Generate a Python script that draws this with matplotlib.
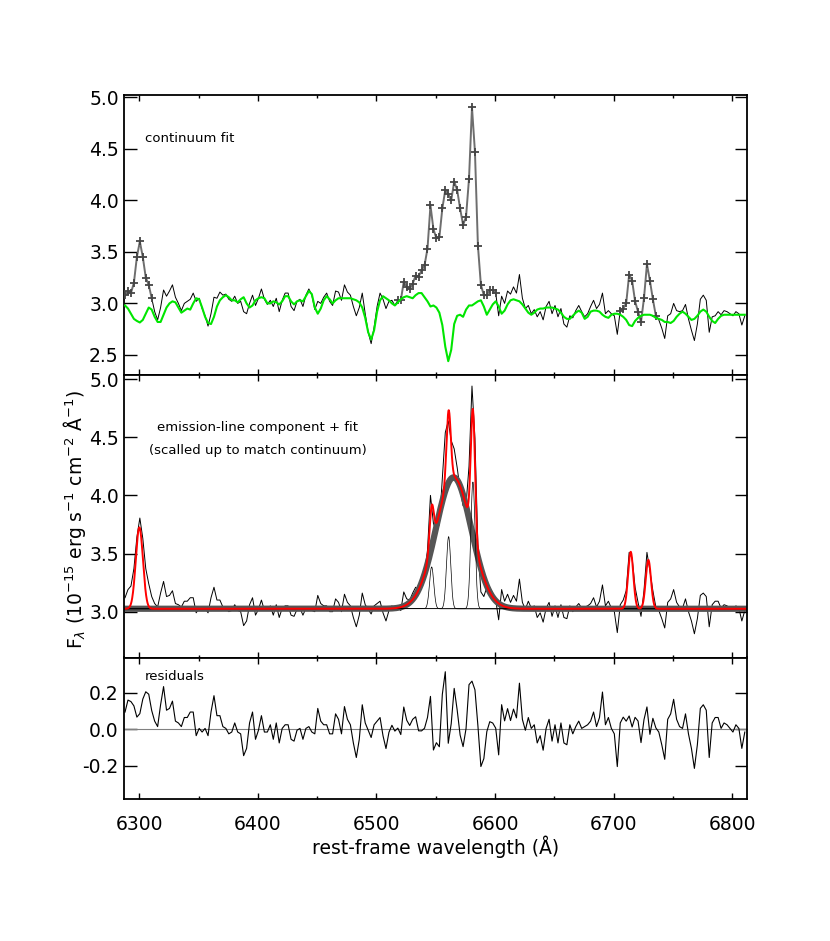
import numpy as np
import matplotlib.pyplot as plt

plt.rcParams['font.family'] = 'DejaVu Sans'
plt.rcParams['axes.unicode_minus'] = False

wave = np.arange(6288.0, 6811.0, 2.5)
flux = [3.08, 3.12, 3.10, 3.20, 3.45, 3.60, 3.45, 3.25, 3.18, 3.05,
        2.92, 2.84, 2.96, 3.13, 3.07, 3.12, 3.18, 3.06, 3.00, 2.93,
        3.00, 3.02, 3.04, 3.10, 3.02, 3.05, 2.95, 2.88, 2.78, 2.90,
        3.06, 3.05, 3.11, 3.08, 3.09, 3.04, 3.02, 3.07, 3.00, 3.02,
        2.92, 2.90, 3.00, 3.08, 2.98, 3.05, 3.14, 3.04, 2.99, 3.03,
        2.97, 3.05, 2.92, 3.03, 3.10, 3.10, 2.97, 2.93, 3.02, 3.04,
        2.97, 3.08, 3.14, 3.08, 2.94, 3.02, 3.00, 3.06, 3.10, 3.02,
        2.98, 3.12, 3.11, 3.03, 3.18, 3.11, 3.08, 2.97, 2.88, 2.96,
        3.10, 2.90, 2.72, 2.61, 2.77, 2.97, 3.10, 3.04, 2.95, 3.02,
        3.03, 2.98, 3.03, 3.03, 3.21, 3.16, 3.14, 3.19, 3.27, 3.26,
        3.32, 3.37, 3.53, 3.95, 3.72, 3.63, 3.64, 3.92, 4.10, 4.06,
        4.00, 4.18, 4.10, 3.92, 3.76, 3.84, 4.21, 4.90, 4.47, 3.56,
        3.18, 3.08, 3.08, 3.13, 3.13, 3.10, 2.88, 3.07, 3.00, 3.12,
        3.09, 3.16, 3.10, 3.28, 3.05, 2.95, 2.98, 2.90, 2.94, 2.87,
        2.92, 2.84, 2.97, 3.02, 2.90, 2.98, 2.87, 2.95, 2.80, 2.77,
        2.88, 2.86, 2.93, 2.98, 2.92, 2.87, 2.90, 2.97, 3.03, 2.95,
        2.99, 3.10, 2.90, 2.93, 2.90, 2.88, 2.70, 2.93, 2.95, 3.00,
        3.28, 3.22, 3.02, 2.92, 2.82, 3.05, 3.38, 3.22, 3.04, 2.88,
        2.84, 2.76, 2.66, 2.88, 2.90, 3.00, 2.93, 2.92, 2.93, 2.99,
        2.85, 2.74, 2.64, 2.80, 3.04, 3.08, 3.03, 2.72, 2.87, 2.88,
        2.92, 2.89, 2.93, 2.92, 2.90, 2.88, 2.92, 2.90, 2.79, 2.88]

# stellar continuum fit (green), same sampling
cont = [2.98, 2.95, 2.90, 2.85, 2.83, 2.815, 2.84, 2.90, 2.96, 2.94,
        2.87, 2.82, 2.82, 2.89, 2.96, 3.00, 3.02, 3.01, 2.96, 2.91,
        2.93, 2.95, 2.94, 3.00, 3.05, 3.04, 2.96, 2.87, 2.81, 2.80,
        2.87, 2.97, 3.03, 3.06, 3.08, 3.06, 3.03, 3.03, 3.01, 3.04,
        3.06, 3.00, 2.96, 2.98, 3.03, 3.05, 3.06, 3.05, 3.00, 3.00,
        3.02, 3.01, 2.99, 3.02, 3.07, 3.07, 3.02, 2.99, 3.02, 3.03,
        3.02, 3.07, 3.12, 3.09, 2.96, 2.90, 2.95, 3.03, 3.07, 3.04,
        3.00, 3.03, 3.05, 3.05, 3.05, 3.05, 3.05, 3.04, 3.03, 3.01,
        2.96, 2.86, 2.72, 2.65, 2.74, 2.92, 3.03, 3.07, 3.05, 3.03,
        3.00, 2.98, 3.01, 3.04, 3.06, 3.07, 3.06, 3.05, 3.08, 3.10,
        3.10, 3.06, 3.02, 2.97, 2.98, 2.96, 2.91, 2.79, 2.58, 2.44,
        2.55, 2.80, 2.88, 2.89, 2.87, 2.94, 2.98, 2.98, 3.00, 3.02,
        3.03, 2.97, 2.89, 2.94, 2.99, 3.02, 2.97, 2.90, 2.93, 2.99,
        3.03, 3.04, 3.03, 3.02, 2.99, 2.95, 2.91, 2.89, 2.91, 2.94,
        2.95, 2.95, 2.96, 2.96, 2.96, 2.95, 2.94, 2.91, 2.87, 2.85,
        2.85, 2.88, 2.91, 2.93, 2.91, 2.85, 2.87, 2.92, 2.93, 2.93,
        2.92, 2.89, 2.87, 2.86, 2.89, 2.90, 2.90, 2.89, 2.87, 2.84,
        2.79, 2.78, 2.83, 2.86, 2.88, 2.89, 2.89, 2.89, 2.88, 2.86,
        2.85, 2.84, 2.82, 2.82, 2.81, 2.83, 2.87, 2.90, 2.92, 2.90,
        2.87, 2.84, 2.85, 2.88, 2.92, 2.94, 2.92, 2.87, 2.83, 2.81,
        2.85, 2.88, 2.89, 2.89, 2.89, 2.89, 2.89, 2.89, 2.89, 2.89]

# regions masked from the continuum fit (drawn with crosses)
mask_ranges = [(6288.0, 6310.5), (6518.0, 6600.5), (6705.5, 6735.5)]

# emission-line fit: level + broad H-alpha + narrow lines
fit_level = 3.025
emis_level = 3.02
broad_center, broad_amp, broad_sigma = 6565.0, 1.13, 15.0
line_names = ['[OI]', '[NII]', 'Ha', '[NII]', '[SII]', '[SII]']
line_centers = [6300.1, 6546.5, 6560.8, 6581.3, 6714.3, 6729.2]
line_amps = [0.70, 0.36, 0.62, 1.09, 0.49, 0.42]
line_sigmas = [3.0, 1.8, 1.8, 1.8, 2.2, 2.2]
shown_components = [1, 2, 3]  # narrow Ha+[NII] drawn separately

flux = np.array(flux)
cont = np.array(cont)


def gauss(w, c, a, s):
    return a * np.exp(-0.5 * ((w - c) / s) ** 2)


def model(w):
    m = fit_level + gauss(w, broad_center, broad_amp, broad_sigma)
    for c, a, s in zip(line_centers, line_amps, line_sigmas):
        m = m + gauss(w, c, a, s)
    return m


emis = flux - cont + emis_level
resid = emis - model(wave)
wfine = np.linspace(6287.4, 6812.6, 3000)

#%%
W, H = 830, 941
fig = plt.figure(figsize=(W / 100, H / 100), dpi=100)
left, width = 124.3 / W, 623.0 / W
ax1 = fig.add_axes([left, (H - 375) / H, width, 280 / H])
ax2 = fig.add_axes([left, (H - 657.5) / H, width, 282.5 / H])
ax3 = fig.add_axes([left, (H - 799.3) / H, width, 141.8 / H])

# top: continuum fit
inside = np.zeros(len(wave), bool)
for lo, hi in mask_ranges:
    inside |= (wave > lo) & (wave < hi)
ax1.plot(wave, np.where(inside, np.nan, flux), color='black', lw=0.7)
for lo, hi in mask_ranges:
    sel = (wave >= lo) & (wave <= hi)
    ax1.plot(wave[sel], flux[sel], color='#6e6e6e', lw=1.4, zorder=3)
    ax1.plot(wave[sel], flux[sel], ls='none', marker='+', ms=5.5, mew=1.3,
             color='#454545', zorder=4)
ax1.plot(wave, cont, color='#00e600', lw=1.5, zorder=5)
ax1.set_ylim(2.306, 5.02)
ax1.set_yticks([2.5, 3.0, 3.5, 4.0, 4.5, 5.0])

# middle: emission-line component + fit
ax2.plot(wave, emis, color='black', lw=0.7)
ax2.plot(wfine, fit_level + gauss(wfine, broad_center, broad_amp, broad_sigma),
         color='#555555', lw=4.5, solid_capstyle='butt')
for i in shown_components:
    ax2.plot(wfine, fit_level + gauss(wfine, line_centers[i], line_amps[i], line_sigmas[i]),
             color='black', lw=0.5)
ax2.plot(wfine, model(wfine), color='#ff0000', lw=1.4)
ax2.set_ylim(2.606, 5.035)
ax2.set_yticks([3.0, 3.5, 4.0, 4.5, 5.0])

# bottom: residuals
ax3.axhline(0.0, color='#808080', lw=0.8)
ax3.plot(wave, resid, color='black', lw=0.8)
ax3.set_ylim(-0.385, 0.395)
ax3.set_yticks([-0.2, 0.0, 0.2])

for ax in (ax1, ax2, ax3):
    ax.set_xlim(6287.4, 6812.6)
    ax.set_xticks([6300, 6400, 6500, 6600, 6700, 6800])
    ax.set_xticks([6350, 6450, 6550, 6650, 6750], minor=True)
    ax.yaxis.set_major_formatter(plt.FormatStrFormatter('%.1f'))
    ax.tick_params(axis='both', which='both', direction='in', top=True, right=True,
                   labelsize=13.5, width=1.0)
    ax.tick_params(axis='x', which='major', length=4)
    ax.tick_params(axis='x', which='minor', length=2.5)
    ax.tick_params(axis='y', which='major', length=9, pad=4)
    for s in ax.spines.values():
        s.set_linewidth(1.3)
ax1.tick_params(labelbottom=False)
ax2.tick_params(labelbottom=False)
ax3.tick_params(axis='x', pad=11)
ax3.set_xlabel('rest-frame wavelength (Å)', fontsize=13.5, labelpad=1.5)

fig.text(74 / W, 1 - 520 / H,
         r'F$_\lambda$ (10$^{-15}$ erg s$^{-1}$ cm$^{-2}$ Å$^{-1}$)',
         rotation=90, ha='center', va='center', fontsize=13.5)
fig.text(145 / W, 1 - 139 / H, 'continuum fit', fontsize=9.5, va='center')
fig.text(257.5 / W, 1 - 428 / H, 'emission-line component + fit', fontsize=9.5,
         ha='center', va='center')
fig.text(257.5 / W, 1 - 451 / H, '(scalled up to match continuum)', fontsize=9.5,
         ha='center', va='center')
fig.text(145 / W, 1 - 677 / H, 'residuals', fontsize=9.5, va='center')

plt.savefig('out.png', dpi=100)
